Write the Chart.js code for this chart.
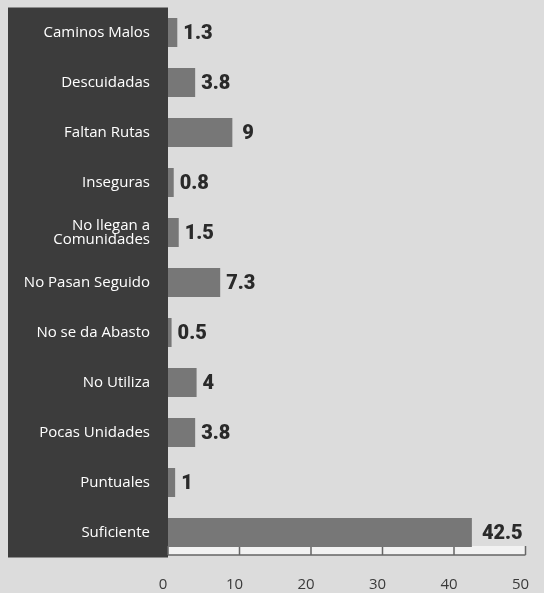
<!DOCTYPE html>
<html>
<head>
<meta charset="utf-8">
<script src="https://cdn.jsdelivr.net/npm/chart.js@4.4.1/dist/chart.umd.min.js"></script>
<style>
  html, body { margin: 0; padding: 0; background: #dcdcdc; }
  #wrap { width: 544px; height: 593px; position: relative; }
</style>
</head>
<body>
<div id="wrap"><canvas id="chart"></canvas></div>
<script>
// Categories and percentages
var categories = [
    'Caminos Malos',
    'Descuidadas',
    'Faltan Rutas',
    'Inseguras',
    ['No llegan a', 'Comunidades'],
    'No Pasan Seguido',
    'No se da Abasto',
    'No Utiliza',
    'Pocas Unidades',
    'Puntuales',
    'Suficiente'
];
var values = [1.3, 3.8, 9, 0.8, 1.5, 7.3, 0.5, 4, 3.8, 1, 42.5];
var axisTicks = [0, 10, 20, 30, 40, 50];

var PANEL_LEFT = 8;

// Dark block behind the category labels
var panelPlugin = {
    id: 'panel',
    beforeDraw: function(chart) {
        var ctx = chart.ctx;
        var area = chart.chartArea;
        ctx.save();
        ctx.fillStyle = '#3c3c3c';
        ctx.fillRect(PANEL_LEFT, area.top, area.left - PANEL_LEFT, area.bottom - area.top);
        ctx.restore();
    }
};

// Bottom axis line with short ticks pointing up
var axisPlugin = {
    id: 'axisLine',
    beforeDatasetsDraw: function(chart) {
        var ctx = chart.ctx;
        var x = chart.scales.x;
        var yLine = chart.chartArea.bottom - 2.5;
        var x0 = x.getPixelForValue(axisTicks[0]);
        var x1 = x.getPixelForValue(axisTicks[axisTicks.length - 1]);
        ctx.save();
        ctx.fillStyle = '#f2f2f2';
        ctx.fillRect(x0, yLine - 9, x1 - x0, 9);
        ctx.strokeStyle = '#666';
        ctx.lineWidth = 1.5;
        ctx.beginPath();
        ctx.moveTo(x0, yLine);
        ctx.lineTo(x1, yLine);
        axisTicks.forEach(function(t) {
            var px = x.getPixelForValue(t);
            ctx.moveTo(px, yLine);
            ctx.lineTo(px, yLine - 9);
        });
        ctx.stroke();
        ctx.restore();
    }
};

// Value printed after each bar
var valueLabels = {
    id: 'valueLabels',
    afterDatasetsDraw: function(chart) {
        var ctx = chart.ctx;
        var meta = chart.getDatasetMeta(0);
        ctx.save();
        ctx.font = '900 20px Roboto, "DejaVu Sans", sans-serif';
        ctx.fillStyle = '#2a2a2a';
        ctx.textAlign = 'left';
        ctx.textBaseline = 'middle';
        meta.data.forEach(function(bar, i) {
            var gap = values[i] >= 9 ? 10 : 6;
            ctx.fillText(String(values[i]), bar.x + gap, bar.y + 1);
        });
        ctx.restore();
    }
};

var ctx = document.getElementById('chart').getContext('2d');
new Chart(ctx, {
    type: 'bar',
    data: {
        labels: categories,
        datasets: [{
            data: values,
            backgroundColor: '#777777',
            borderWidth: 0,
            barPercentage: 0.58,
            categoryPercentage: 1.0
        }]
    },
    options: {
        indexAxis: 'y',
        responsive: true,
        maintainAspectRatio: false,
        animation: false,
        layout: {
            padding: { left: PANEL_LEFT, right: 18.5, top: 7.5, bottom: 0 }
        },
        plugins: {
            legend: { display: false },
            tooltip: { enabled: false }
        },
        scales: {
            x: {
                min: 0,
                max: 50,
                afterBuildTicks: function(scale) {
                    scale.ticks = axisTicks.map(function(v) { return { value: v }; });
                },
                afterFit: function(scale) {
                    scale.height = 35.5;
                    scale.paddingLeft = 0;
                    scale.paddingRight = 0;
                },
                grid: { display: false, drawTicks: false },
                border: { display: false },
                ticks: {
                    padding: 18,
                    labelOffset: -5,
                    maxRotation: 0,
                    color: '#3a3a3a',
                    font: { family: '"Open Sans", sans-serif', size: 15 }
                }
            },
            y: {
                grid: { display: false, drawTicks: false },
                border: { display: false },
                afterFit: function(scale) {
                    scale.width = 160;
                    scale.paddingTop = 0;
                    scale.paddingBottom = 0;
                },
                ticks: {
                    padding: 18,
                    color: '#ffffff',
                    font: { family: '"Open Sans", sans-serif', size: 15, lineHeight: 0.95 }
                }
            }
        }
    },
    plugins: [panelPlugin, axisPlugin, valueLabels]
});
</script>
</body>
</html>
